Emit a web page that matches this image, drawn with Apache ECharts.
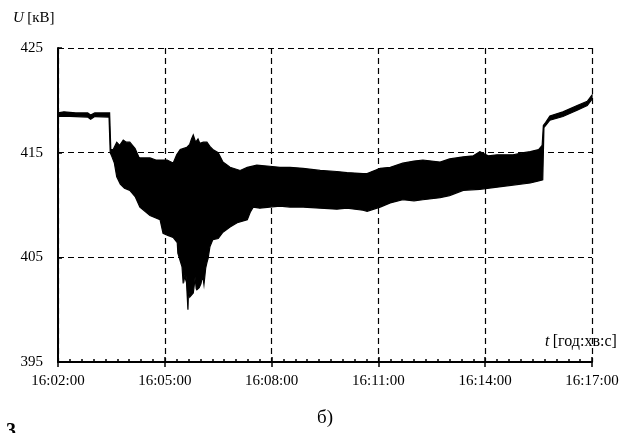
<!DOCTYPE html>
<html>
<head>
<meta charset="utf-8">
<script src="https://cdn.jsdelivr.net/npm/echarts@6/dist/echarts.min.js"></script>
<style>
html,body{margin:0;padding:0;background:#fff;}
#c{width:634px;height:433px;}
</style>
</head>
<body>
<div id="c"></div>
<script>
// times in seconds after 16:02:00; upper and lower envelope of the voltage band (kV)
var upperT = [0,10,30,50,55,62,87,89,93,99,104,110,115,121,130,136,138,155,165,184,194,200,206,217,222,225,228,232,236,239,245,251,256,261,270,278,290,307,319,335,357,374,391,413,442,470,487,514,521,543,560,581,600,615,644,660,683,700,711,725,740,767,785,796,810,816,818,822,829,851,875,892,900];
var upperV = [418.8,418.9,418.8,418.8,418.6,418.8,418.8,415.3,415.3,416.0,415.7,416.2,416.0,416.0,415.4,414.6,414.5,414.5,414.3,414.3,414.0,414.8,415.3,415.5,415.8,416.3,416.7,416.0,416.3,415.9,416.0,416.0,415.6,415.3,415.0,414.1,413.6,413.3,413.6,413.8,413.7,413.6,413.6,413.5,413.3,413.2,413.1,413.0,413.0,413.5,413.6,414.0,414.2,414.3,414.1,414.4,414.6,414.7,415.1,414.7,414.8,414.8,415.0,415.1,415.3,415.7,417.6,417.9,418.5,418.9,419.5,419.9,420.5];
var lowerT = [0,10,30,50,55,62,86,88,91,95,99,105,112,121,130,138,155,172,177,185,194,201,202,209,211,212,214,216,219,220,222,228,230,231,233,234,238,241,243,245,246,249,251,253,256,261,270,278,290,302,319,324,329,340,357,374,391,413,442,470,487,514,521,543,560,581,600,615,644,660,683,711,740,767,796,810,817,819,829,851,875,892,900];
var lowerV = [418.45,418.5,418.45,418.4,418.2,418.45,418.4,415.0,414.6,414.0,412.7,412.0,411.6,411.4,410.8,409.8,409.0,408.6,407.3,407.1,406.9,406.4,405.4,404.1,402.5,403.5,402.8,403.2,400.0,402.0,401.2,401.6,402.5,403.1,402.0,401.9,402.1,402.5,403.1,402.8,402.4,404.0,404.5,404.9,406.0,406.7,406.8,407.4,407.9,408.3,408.6,409.3,409.8,409.7,409.8,409.9,409.8,409.8,409.7,409.6,409.7,409.5,409.4,409.8,410.2,410.5,410.4,410.5,410.7,410.9,411.4,411.5,411.7,411.9,412.1,412.3,412.4,417.4,418.1,418.45,419.05,419.5,420.1];
var tickLabels = ['16:02:00','16:05:00','16:08:00','16:11:00','16:14:00','16:17:00'];
var yTicks = [395,405,415,425];

var serif = '"Liberation Serif","Times New Roman",serif';
var chart = echarts.init(document.getElementById('c'), null, {renderer:'canvas'});
var gridLine = {show:true, lineStyle:{color:'#000', width:1.2, type:[6,4]}};
chart.setOption({
  animation:false,
  backgroundColor:'#fff',
  grid:{left:58, right:42, top:48, bottom:71},
  xAxis:[{
    type:'value', min:0, max:900, interval:180,
    axisLine:{show:true, onZero:false, lineStyle:{color:'#000', width:2}},
    axisTick:{show:true, inside:true, length:5, lineStyle:{color:'#000', width:1.5}},
    minorTick:{show:true, splitNumber:9, length:3, lineStyle:{color:'#000', width:1.5}},
    axisLabel:{color:'#000', fontFamily:serif, fontSize:15, margin:12,
      formatter:function(v){return tickLabels[Math.round(v/180)];}},
    splitLine:gridLine
  },{
    type:'value', min:0, max:900, interval:180, position:'bottom',
    axisLine:{show:false}, axisLabel:{show:false}, splitLine:{show:false},
    axisTick:{show:true, inside:false, length:5, lineStyle:{color:'#000', width:1.5}}
  }],
  yAxis:{
    type:'value', min:yTicks[0], max:yTicks[yTicks.length-1], interval:10,
    axisLine:{show:true, lineStyle:{color:'#000', width:2}},
    axisTick:{show:true, inside:true, length:4, lineStyle:{color:'#000', width:1.5}},
    axisLabel:{color:'#000', fontFamily:serif, fontSize:15, margin:15},
    splitLine:gridLine
  },
  series:[{
    type:'custom',
    xAxisIndex:0,
    data:[[upperT[0], upperV[0]]],
    renderItem:function(params, api){
      var pts = [];
      for (var i=0;i<upperT.length;i++) pts.push(api.coord([upperT[i], upperV[i]]));
      for (var j=lowerT.length-1;j>=0;j--) pts.push(api.coord([lowerT[j], lowerV[j]]));
      return {type:'polygon', shape:{points:pts}, style:{fill:'#000', stroke:'#000', lineWidth:1.2, lineJoin:'miter'}};
    },
    z:3
  }],
  graphic:[
    {type:'text', left:13, top:11, style:{rich:{i:{fontStyle:'italic', fontFamily:serif, fontSize:15, fill:'#000'}, n:{fontFamily:serif, fontSize:15, fill:'#000'}}, text:'{i|U} {n|[кВ]}'}},
    {type:'text', left:545, top:334, style:{rich:{i:{fontStyle:'italic', fontFamily:serif, fontSize:16, fill:'#000'}, n:{fontFamily:serif, fontSize:16, fill:'#000'}}, text:'{i|t} {n|[год:хв:с]}'}},
    {type:'text', left:317, top:409, style:{text:'б)', fontFamily:serif, fontSize:19, fill:'#000'}},
    {type:'text', left:6, top:422, style:{text:'3', fontFamily:serif, fontSize:20, fontWeight:'bold', fill:'#000'}}
  ]
});
</script>
</body>
</html>
